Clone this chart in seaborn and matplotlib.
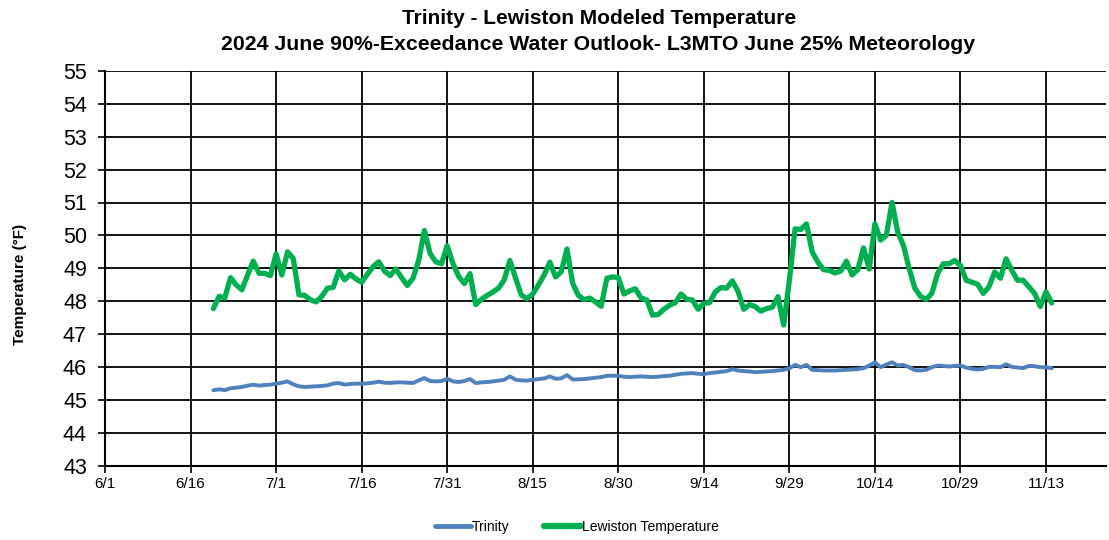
import numpy as np
import pandas as pd
import matplotlib
matplotlib.use("Agg")
import matplotlib.pyplot as plt
import seaborn as sns

start_date = "2024-06-20"
trinity = [45.30, 45.33, 45.30, 45.36, 45.38, 45.40, 45.44, 45.47, 45.44, 45.46,
           45.47, 45.50, 45.53, 45.57, 45.48, 45.42, 45.40, 45.41, 45.42, 45.43,
           45.45, 45.50, 45.52, 45.47, 45.49, 45.50, 45.50, 45.51, 45.53, 45.56,
           45.53, 45.52, 45.54, 45.54, 45.53, 45.52, 45.60, 45.67, 45.58, 45.57,
           45.58, 45.65, 45.57, 45.55, 45.58, 45.64, 45.52, 45.54, 45.55, 45.57,
           45.59, 45.62, 45.72, 45.62, 45.60, 45.59, 45.62, 45.64, 45.66, 45.72,
           45.65, 45.66, 45.76, 45.63, 45.63, 45.64, 45.66, 45.68, 45.70, 45.74,
           45.74, 45.74, 45.71, 45.70, 45.71, 45.72, 45.71, 45.70, 45.71, 45.73,
           45.74, 45.77, 45.80, 45.81, 45.82, 45.80, 45.79, 45.82, 45.84, 45.86,
           45.88, 45.94, 45.90, 45.88, 45.87, 45.85, 45.86, 45.87, 45.88, 45.90,
           45.92, 45.97, 46.07, 46.00, 46.07, 45.92, 45.91, 45.90, 45.90, 45.90,
           45.91, 45.92, 45.93, 45.94, 45.97, 46.05, 46.15, 46.00, 46.08, 46.15,
           46.05, 46.07, 46.00, 45.91, 45.90, 45.92, 46.00, 46.05, 46.04, 46.02,
           46.04, 46.05, 45.99, 45.95, 45.93, 45.95, 46.01, 46.01, 46.00, 46.09,
           46.01, 45.99, 45.97, 46.04, 46.03, 46.00, 46.00, 45.97]
lewiston = [47.78, 48.15, 48.10, 48.72, 48.50, 48.35, 48.80, 49.22, 48.85, 48.85,
            48.78, 49.44, 48.80, 49.50, 49.30, 48.20, 48.18, 48.05, 47.98, 48.15,
            48.40, 48.42, 48.92, 48.65, 48.82, 48.68, 48.58, 48.82, 49.05, 49.20,
            48.92, 48.78, 48.98, 48.72, 48.48, 48.70, 49.24, 50.15, 49.45, 49.20,
            49.14, 49.69, 49.15, 48.76, 48.54, 48.84, 47.90, 48.06, 48.18, 48.28,
            48.40, 48.65, 49.24, 48.70, 48.19, 48.08, 48.22, 48.50, 48.80, 49.19,
            48.74, 48.90, 49.59, 48.55, 48.18, 48.05, 48.10, 47.98, 47.85, 48.70,
            48.74, 48.72, 48.22, 48.32, 48.38, 48.10, 48.04, 47.58, 47.60, 47.76,
            47.88, 47.96, 48.22, 48.06, 48.04, 47.76, 47.94, 47.96, 48.28, 48.42,
            48.40, 48.62, 48.30, 47.76, 47.90, 47.84, 47.70, 47.78, 47.82, 48.14,
            47.28, 48.64, 50.20, 50.18, 50.35, 49.50, 49.19, 48.96, 48.94, 48.86,
            48.92, 49.22, 48.80, 48.96, 49.62, 48.98, 50.35, 49.86, 50.00, 51.00,
            50.10, 49.70, 49.00, 48.40, 48.15, 48.06, 48.25, 48.85, 49.14, 49.14,
            49.24, 49.09, 48.64, 48.58, 48.52, 48.24, 48.44, 48.89, 48.70, 49.29,
            48.94, 48.64, 48.64, 48.44, 48.24, 47.84, 48.29, 47.95]
tick_dates = ["2024-06-01", "2024-06-16", "2024-07-01", "2024-07-16", "2024-07-31",
              "2024-08-15", "2024-08-30", "2024-09-14", "2024-09-29", "2024-10-14",
              "2024-10-29", "2024-11-13"]
tick_labels = ["6/1", "6/16", "7/1", "7/16", "7/31", "8/15", "8/30", "9/14",
               "9/29", "10/14", "10/29", "11/13"]
series_names = ["Trinity", "Lewiston Temperature"]
colors = ["#4F81BD", "#00B050"]

dates = pd.date_range(start_date, periods=len(trinity), freq="D")
df = pd.concat([
    pd.DataFrame({"date": dates, "temp": trinity, "series": series_names[0]}),
    pd.DataFrame({"date": dates, "temp": lewiston, "series": series_names[1]}),
])

sns.set_theme(style="white")
plt.rcParams["font.family"] = ["Liberation Sans", "DejaVu Sans"]
for key in ["text.color", "axes.labelcolor", "xtick.color", "ytick.color"]:
    plt.rcParams[key] = "black"

fig = plt.figure(figsize=(11.09, 5.40), dpi=100)
ax = fig.add_axes([0.0947, 0.137, 0.903, 0.732])

sns.lineplot(data=df[df.series == series_names[0]], x="date", y="temp", ax=ax,
             color=colors[0], linewidth=2.8, legend=False)
sns.lineplot(data=df[df.series == series_names[1]], x="date", y="temp", ax=ax,
             color=colors[1], linewidth=3.8, legend=False)

ax.set_ylim(43, 55)
ax.set_yticks(np.arange(43, 56, 1))
ax.set_xlim(pd.Timestamp("2024-06-01"), pd.Timestamp("2024-06-01") + pd.Timedelta(days=175.6))
ax.set_xticks(pd.to_datetime(tick_dates))
ax.set_xticklabels(tick_labels, fontsize=11)
ax.tick_params(axis="y", labelsize=15.5, length=5, width=1.2, direction="out", left=True, pad=8)
ax.tick_params(axis="x", length=5, width=1.2, direction="out", bottom=True, pad=3)
ax.grid(True, color="black", linewidth=1.3)
ax.set_axisbelow(True)
for s in ["top", "right"]:
    ax.spines[s].set_visible(False)
for s in ["left", "bottom"]:
    ax.spines[s].set_color("black")
    ax.spines[s].set_linewidth(1.5)
ax.set_xlabel("")
ax.set_ylabel("Temperature (°F)", fontsize=11, fontweight="bold")
ax.yaxis.set_label_coords(-0.078, 0.46)

fig.text(0.54, 0.966, "Trinity - Lewiston Modeled Temperature", ha="center", va="center",
         fontsize=15, fontweight="bold")
fig.text(0.539, 0.917, "2024 June 90%-Exceedance Water Outlook- L3MTO June 25% Meteorology",
         ha="center", va="center", fontsize=15.3, fontweight="bold")

handles = [plt.Line2D([], [], color=colors[0], linewidth=3.5),
           plt.Line2D([], [], color=colors[1], linewidth=4.5)]
fig.legend(handles, series_names, loc="center", bbox_to_anchor=(0.52, 0.025), ncol=2,
           frameon=False, prop={"size": 10}, handlelength=2.6,
           handletextpad=0.1, columnspacing=2.5)

fig.savefig("out.png", dpi=100)
